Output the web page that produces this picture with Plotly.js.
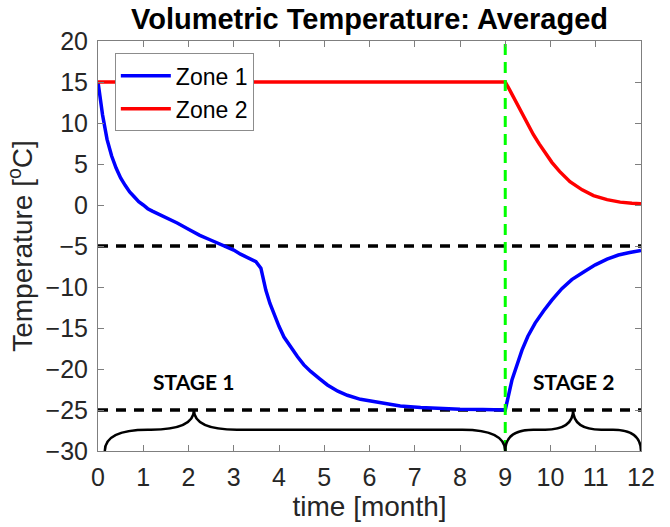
<!DOCTYPE html>
<html>
<head>
<meta charset="utf-8">
<script src="https://cdn.plot.ly/plotly-3.0.1.min.js"></script>
<style>html,body{margin:0;padding:0;background:#fff;}#chart{width:670px;height:527px;}</style>
</head>
<body>
<div id="chart"></div>
<script>
// ---- data ----
const zone1Time = [0,0.1,0.2,0.3,0.4,0.5,0.6,0.7,0.8,0.9,1.0,1.1,1.2,1.3,1.5,1.75,2.0,2.25,2.5,2.75,3.0,3.15,3.3,3.49,3.6,3.71,3.8,3.89,4.0,4.11,4.25,4.41,4.55,4.7,4.9,5.07,5.3,5.51,5.8,6.1,6.4,6.68,7.13,7.5,8.0,8.5,9.0,9.15,9.37,9.5,9.66,9.85,10.03,10.25,10.47,10.75,10.99,11.25,11.5,11.75,12.0];
const zone1Temp = [15,11.0,8.0,6.0,4.5,3.3,2.4,1.6,1.0,0.4,0.0,-0.45,-0.75,-1.0,-1.5,-2.2,-2.95,-3.7,-4.3,-4.9,-5.5,-6.0,-6.4,-6.9,-7.7,-10.4,-12.0,-13.4,-14.8,-16.1,-17.3,-18.5,-19.5,-20.3,-21.2,-21.95,-22.7,-23.2,-23.7,-24.0,-24.3,-24.5,-24.7,-24.8,-24.9,-24.95,-25.0,-21.3,-17.7,-16.0,-14.4,-12.9,-11.6,-10.2,-9.1,-8.1,-7.3,-6.6,-6.1,-5.8,-5.55];
const zone2Time = [0,3,6,9.0,9.1,9.2,9.3,9.4,9.5,9.62,9.75,9.9,10.03,10.2,10.43,10.7,10.95,11.25,11.54,11.8,12.0];
const zone2Temp = [15,15,15,15,14.0,12.95,11.95,10.9,9.85,8.6,7.45,6.2,5.2,4.1,2.85,1.85,1.15,0.65,0.35,0.2,0.15];
const seriesNames = ['Zone 1','Zone 2'];
const refLevels = [-5,-25];
const stageBoundary = 9;
const stageNames = ['STAGE 1','STAGE 2'];
const stageStart = [0.15, 9];
const stageEnd = [9, 12];
const stageTip = [2.12, 10.5];
const xTicks = [0,1,2,3,4,5,6,7,8,9,10,11,12];
const yTicks = [-30,-25,-20,-15,-10,-5,0,5,10,15,20];

// ---- styling ----
const xRange = [0,12], yRange = [-30,20];
const braceCurl = [0.95, 0.62];
const braceFlat = -27.4;
const sansFont = 'Liberation Sans, Arial, sans-serif';

const traces = [];
refLevels.forEach(v => {
  traces.push({x: xRange, y: [v, v], mode: 'lines', showlegend: false, hoverinfo: 'skip',
    line: {color: '#000000', width: 3.5, dash: '10px,8px'}});
});
traces.push({x: zone1Time, y: zone1Temp, mode: 'lines', name: seriesNames[0],
  line: {color: '#0000ff', width: 3.5}});
traces.push({x: zone2Time, y: zone2Temp, mode: 'lines', name: seriesNames[1],
  line: {color: '#ff0000', width: 3.5}});
traces.push({x: [stageBoundary, stageBoundary], y: yRange, mode: 'lines', showlegend: false, hoverinfo: 'skip',
  line: {color: '#00ff00', width: 3, dash: '11px,7px'}});

const shapes = [];
const annotations = [];
stageNames.forEach((name, i) => {
  const xs = stageStart[i], xe = stageEnd[i], xt = stageTip[i], w = braceCurl[i];
  const y0 = yRange[0], ym = braceFlat, yt = refLevels[1];
  const path = `M${xs},${y0} Q${xs},${ym} ${xs + w},${ym} L${xt - w},${ym} Q${xt},${ym} ${xt},${yt}` +
               ` Q${xt},${ym} ${xt + w},${ym} L${xe - w},${ym} Q${xe},${ym} ${xe},${y0}`;
  shapes.push({type: 'path', xref: 'x', yref: 'y', path: path, line: {color: '#000000', width: 2.5}});
  annotations.push({x: xt, y: yt, xref: 'x', yref: 'y', yshift: 29, showarrow: false, text: '<b>' + name + '</b>',
    font: {family: 'Lato, Open Sans, sans-serif', size: 21, color: '#000000'}});
});

const axisCommon = {
  showgrid: false, zeroline: false, showline: true, linecolor: '#7f7f7f', linewidth: 1,
  mirror: 'ticks', ticks: 'inside', ticklen: 6, tickcolor: '#7f7f7f', tickwidth: 1,
  tickfont: {family: sansFont, size: 25, color: '#262626'}
};

const layout = {
  width: 670, height: 527,
  margin: {l: 98, r: 29, t: 41, b: 76, pad: 0},
  paper_bgcolor: '#ffffff', plot_bgcolor: '#ffffff',
  font: {family: sansFont, color: '#262626'},
  title: {text: '<b>Volumetric Temperature: Averaged</b>', font: {family: sansFont, size: 29, color: '#000000'},
    x: 0.5, xref: 'paper', xanchor: 'center', y: 1 - 19/527, yref: 'container', yanchor: 'middle'},
  xaxis: Object.assign({}, axisCommon, {range: xRange, tickmode: 'array', tickvals: xTicks,
    ticklabelstandoff: 4,
    title: {text: 'time [month]', font: {family: sansFont, size: 28, color: '#262626'}, standoff: 6}}),
  yaxis: Object.assign({}, axisCommon, {range: yRange, tickmode: 'array', tickvals: yTicks,
    ticklabelstandoff: 4,
    title: {text: 'Temperature [<sup>o</sup>C]', font: {family: sansFont, size: 28, color: '#262626'}, standoff: 4}}),
  legend: {x: 0.031, y: 0.97, xanchor: 'left', yanchor: 'top', bgcolor: '#ffffff',
    bordercolor: '#8c8c8c', borderwidth: 1, itemwidth: 50,
    font: {family: sansFont, size: 23, color: '#000000'}},
  shapes: shapes,
  annotations: annotations,
  showlegend: true
};

Plotly.newPlot('chart', traces, layout, {displayModeBar: false, staticPlot: true});
</script>
</body>
</html>
